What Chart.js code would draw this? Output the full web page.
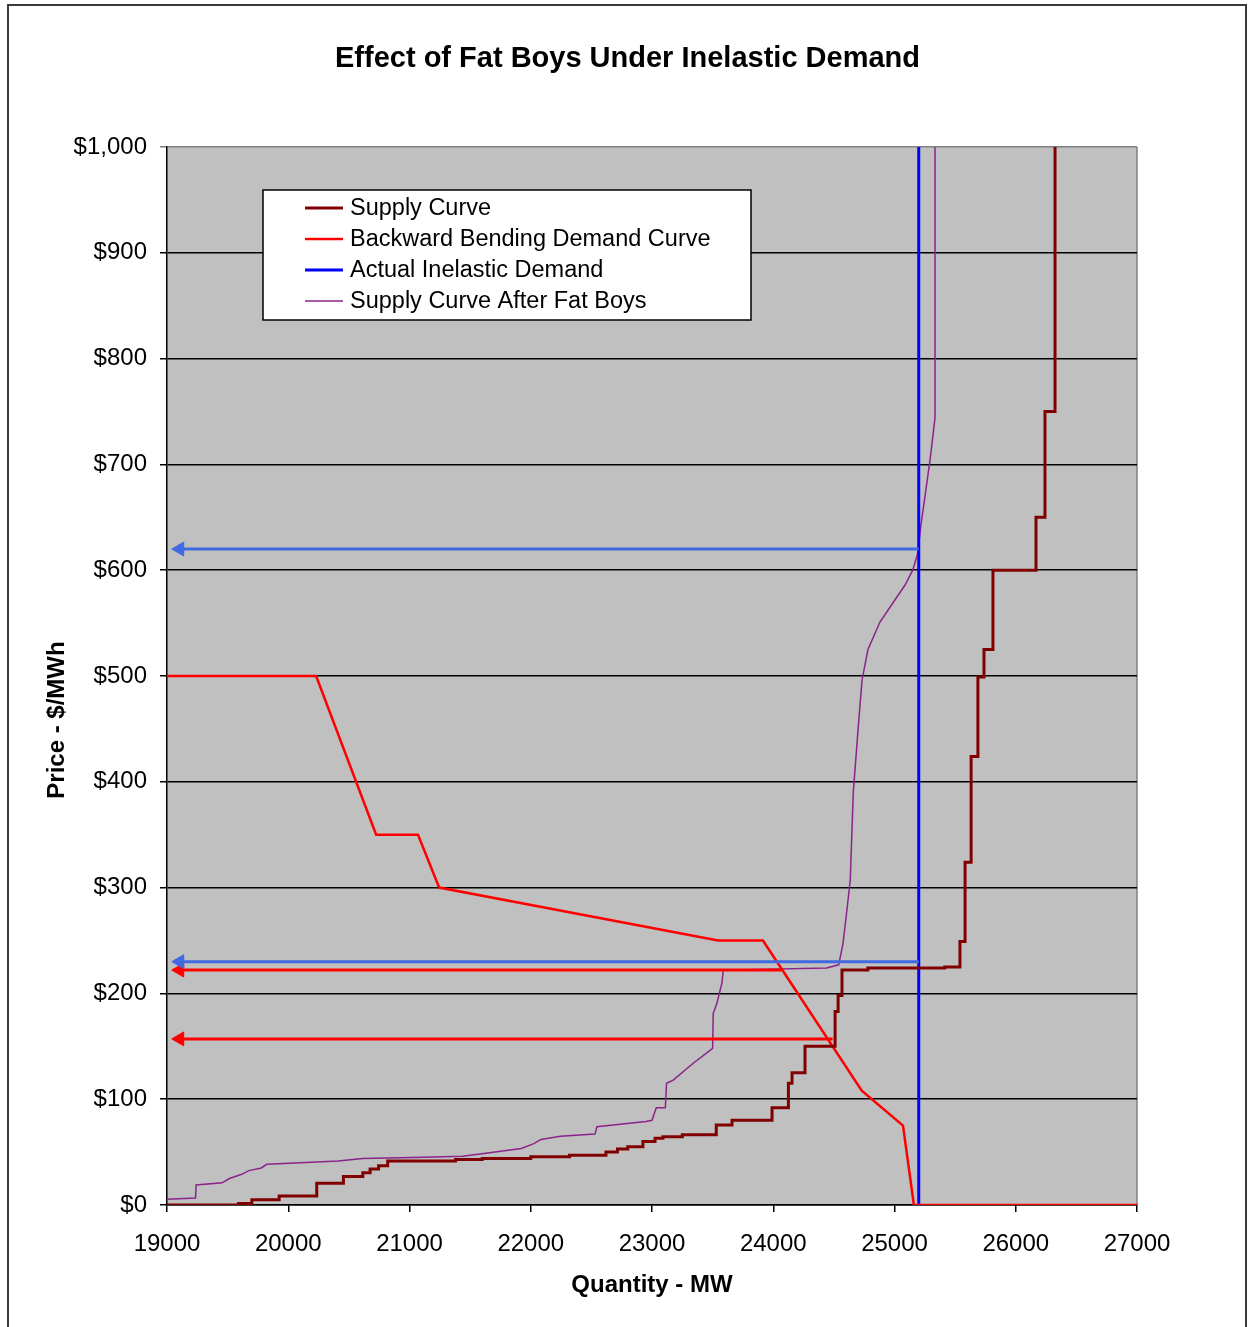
<!DOCTYPE html>
<html>
<head>
<meta charset="utf-8">
<script src="https://cdn.jsdelivr.net/npm/chart.js@4/dist/chart.umd.min.js"></script>
<style>
  html, body { margin: 0; padding: 0; background: #ffffff; }
  #wrap { width: 1248px; height: 1327px; position: relative; }
  canvas { display: block; }
</style>
</head>
<body>
<div id="wrap"><canvas id="chart" width="1248" height="1327"></canvas></div>
<script>
// ---- Data (MW, $/MWh) ----
// Supply curve: quantity at which each price step begins
const supplyQty = [19000, 19590, 19700, 19925, 20235, 20455, 20615, 20675, 20745, 20820,
  21380, 21600, 22000, 22320, 22620, 22715, 22800, 22925, 23025, 23090,
  23250, 23530, 23660, 23990, 24125, 24155, 24262, 24510, 24535, 24567,
  24780, 25415, 25540, 25582, 25632, 25688, 25738, 25812, 26167, 26241, 26324];
const supplyPrice = [0, 1.5, 5, 8.5, 20.5, 27, 30.5, 34, 37, 41.5,
  43, 44, 45.5, 47, 50, 53, 55, 60, 63, 64.5,
  66.5, 75.5, 80, 92, 115, 125, 150, 183, 198, 222,
  224, 225, 249, 324, 424, 499, 525, 600, 650, 750, 1000];

// Backward bending demand curve
const demandQty   = [19000, 20230, 20725, 21070, 21245, 23545, 23915, 24730, 25070, 25160, 27000];
const demandPrice = [500, 500, 350, 350, 300, 250, 250, 108, 75, 0, 0];

// Actual inelastic demand
const inelasticQty   = [25200, 25200];
const inelasticPrice = [0, 1000];

// Supply curve after fat boys
const fatBoysQty = [19000, 19235, 19240, 19455, 19515, 19617, 19675, 19778, 19822, 20100,
  20410, 20615, 21025, 21438, 21628, 21922, 22025, 22085, 22245, 22530,
  22545, 22950, 23000, 23035, 23110, 23120, 23175, 23340, 23500, 23505,
  23536, 23577, 23588, 24440, 24540, 24575, 24605, 24635, 24660, 24700,
  24732, 24781, 24880, 25087, 25150, 25190, 25215, 25293, 25334, 25334];
const fatBoysPrice = [5.5, 6.5, 19, 21, 25, 29, 32.5, 35, 38.5, 40,
  41.5, 44, 45, 46, 49, 53.5, 58, 62, 65, 67,
  74, 79, 80, 92, 92, 115, 118, 134, 148, 181,
  191, 210, 222, 224, 227, 247, 276, 307, 390, 450,
  496, 525, 551, 586, 600, 615, 640, 704, 744, 1000];

// Price-reading arrows (drawn from the curve back to the price axis)
const arrowPrice    = [620, 230, 222, 157];
const arrowFromQty  = [25200, 25200, 24070, 24490];
const arrowTipQty   = 19105;
const arrowColor    = ['#4169E1', '#4169E1', '#FF0000', '#FF0000'];

// Axis ticks
const xTicks = [19000, 20000, 21000, 22000, 23000, 24000, 25000, 26000, 27000];
const yTicks = [0, 100, 200, 300, 400, 500, 600, 700, 800, 900, 1000];

const FONT = '"Liberation Sans", Arial, Helvetica, sans-serif';

const pts = (xs, ys) => xs.map((x, i) => ({ x: x, y: ys[i] }));

const arrowSets = arrowPrice.map((p, i) => ({
  label: 'arrow' + i,
  data: [{ x: arrowFromQty[i], y: p }, { x: arrowTipQty, y: p }],
  borderColor: arrowColor[i],
  backgroundColor: arrowColor[i],
  borderWidth: 3,
  showLine: true,
  pointRadius: [0, 8],
  pointHoverRadius: [0, 8],
  pointStyle: 'triangle',
  rotation: -90,
  pointBackgroundColor: arrowColor[i],
  pointBorderColor: arrowColor[i],
  pointBorderWidth: 1,
  inLegend: false
}));

const seriesSets = [
  { label: 'Supply Curve', data: pts(supplyQty, supplyPrice), borderColor: '#800000',
    borderWidth: 3, stepped: 'before', inLegend: true },
  { label: 'Backward Bending Demand Curve', data: pts(demandQty, demandPrice), borderColor: '#FF0000',
    borderWidth: 2.5, inLegend: true },
  { label: 'Actual Inelastic Demand', data: pts(inelasticQty, inelasticPrice), borderColor: '#0000FF',
    borderWidth: 3, inLegend: true },
  { label: 'Supply Curve After Fat Boys', data: pts(fatBoysQty, fatBoysPrice), borderColor: '#8B238B',
    borderWidth: 1.5, inLegend: true }
].map(d => Object.assign({ showLine: true, pointRadius: 0, pointHoverRadius: 0, tension: 0, fill: false }, d));

// Grey plot area
const plotBackground = {
  id: 'plotBackground',
  beforeDraw(chart) {
    const { ctx, chartArea: a } = chart;
    ctx.save();
    ctx.fillStyle = '#C0C0C0';
    ctx.fillRect(a.left, a.top, a.right - a.left, a.bottom - a.top);
    ctx.strokeStyle = '#808080';
    ctx.lineWidth = 1.5;
    ctx.beginPath();
    ctx.moveTo(a.right, a.top);
    ctx.lineTo(a.right, a.bottom);
    ctx.stroke();
    ctx.restore();
  }
};

// Boxed legend inside the plot
const legendBox = {
  id: 'legendBox',
  afterDatasetsDraw(chart) {
    const { ctx, chartArea: a } = chart;
    const x0 = a.left + 96, y0 = a.top + 43, w = 488, h = 130;
    ctx.save();
    ctx.fillStyle = '#ffffff';
    ctx.fillRect(x0, y0, w, h);
    ctx.strokeStyle = '#000000';
    ctx.lineWidth = 1.5;
    ctx.strokeRect(x0, y0, w, h);
    ctx.font = '23.5px ' + FONT;
    ctx.textBaseline = 'middle';
    ctx.textAlign = 'left';
    chart.data.datasets.filter(d => d.inLegend).forEach((d, i) => {
      const y = y0 + 18 + i * 31;
      ctx.strokeStyle = d.borderColor;
      ctx.lineWidth = d.borderWidth;
      ctx.beginPath();
      ctx.moveTo(x0 + 42, y);
      ctx.lineTo(x0 + 80, y);
      ctx.stroke();
      ctx.fillStyle = '#000000';
      ctx.fillText(d.label, x0 + 87, y + 1);
    });
    ctx.restore();
  }
};

// Vertical axis caption and outer frame
const captions = {
  id: 'captions',
  afterDraw(chart) {
    const { ctx } = chart;
    ctx.save();
    ctx.translate(57, 720);
    ctx.rotate(-Math.PI / 2);
    ctx.font = 'bold 24px ' + FONT;
    ctx.fillStyle = '#000000';
    ctx.textAlign = 'center';
    ctx.textBaseline = 'middle';
    ctx.fillText('Price - $/MWh', 0, 0);
    ctx.restore();

    ctx.save();
    ctx.strokeStyle = '#3a3a3a';
    ctx.lineWidth = 2;
    ctx.beginPath();
    ctx.moveTo(8, 1340);
    ctx.lineTo(8, 5);
    ctx.lineTo(1246, 5);
    ctx.lineTo(1246, 1340);
    ctx.stroke();
    ctx.restore();
  }
};

new Chart(document.getElementById('chart'), {
  type: 'scatter',
  data: { datasets: arrowSets.concat(seriesSets) },
  options: {
    responsive: false,
    animation: false,
    devicePixelRatio: 1,
    layout: { padding: { left: 7, right: 0, top: 0, bottom: 0 } },
    plugins: {
      legend: { display: false },
      tooltip: { enabled: false },
      title: {
        display: true,
        text: 'Effect of Fat Boys Under Inelastic Demand',
        color: '#000000',
        font: { family: FONT, size: 29, weight: 'bold', lineHeight: 1.2 },
        padding: { top: 42, bottom: 70.2 }
      }
    },
    scales: {
      x: {
        type: 'linear',
        position: 'bottom',
        min: xTicks[0],
        max: xTicks[xTicks.length - 1],
        afterBuildTicks(s) { s.ticks = xTicks.map(v => ({ value: v })); },
        afterFit(s) { s.height = 122; },
        ticks: {
          color: '#000000',
          font: { family: FONT, size: 24 },
          padding: 18,
          maxRotation: 0,
          autoSkip: false,
          callback: v => String(v)
        },
        grid: { drawOnChartArea: false, drawTicks: true, tickLength: 7, color: '#000000', lineWidth: 1.5 },
        border: { display: true, color: '#000000', width: 1.5 },
        title: {
          display: true,
          text: 'Quantity - MW',
          color: '#000000',
          font: { family: FONT, size: 24, weight: 'bold', lineHeight: 1.2 },
          padding: { top: 0, bottom: 27.6 }
        }
      },
      y: {
        type: 'linear',
        position: 'left',
        min: yTicks[0],
        max: yTicks[yTicks.length - 1],
        afterBuildTicks(s) { s.ticks = yTicks.map(v => ({ value: v })); },
        afterFit(s) { s.width = 160; },
        ticks: {
          color: '#000000',
          font: { family: FONT, size: 24 },
          padding: 13,
          autoSkip: false,
          callback: v => '$' + Number(v).toLocaleString('en-US')
        },
        grid: {
          drawOnChartArea: true,
          drawTicks: true,
          tickLength: 7,
          color: ctx => (ctx.tick && ctx.tick.value === 1000 ? '#808080' : '#000000'),
          lineWidth: 1.5
        },
        border: { display: true, color: '#000000', width: 1.5 },
        title: { display: false }
      },
      yRight: {
        type: 'linear',
        position: 'right',
        min: 0,
        max: 1,
        display: true,
        afterFit(s) { s.width = 111; },
        ticks: { display: false },
        grid: { display: false, drawTicks: false },
        border: { display: false },
        title: { display: false }
      }
    }
  },
  plugins: [plotBackground, legendBox, captions]
});
</script>
</body>
</html>
